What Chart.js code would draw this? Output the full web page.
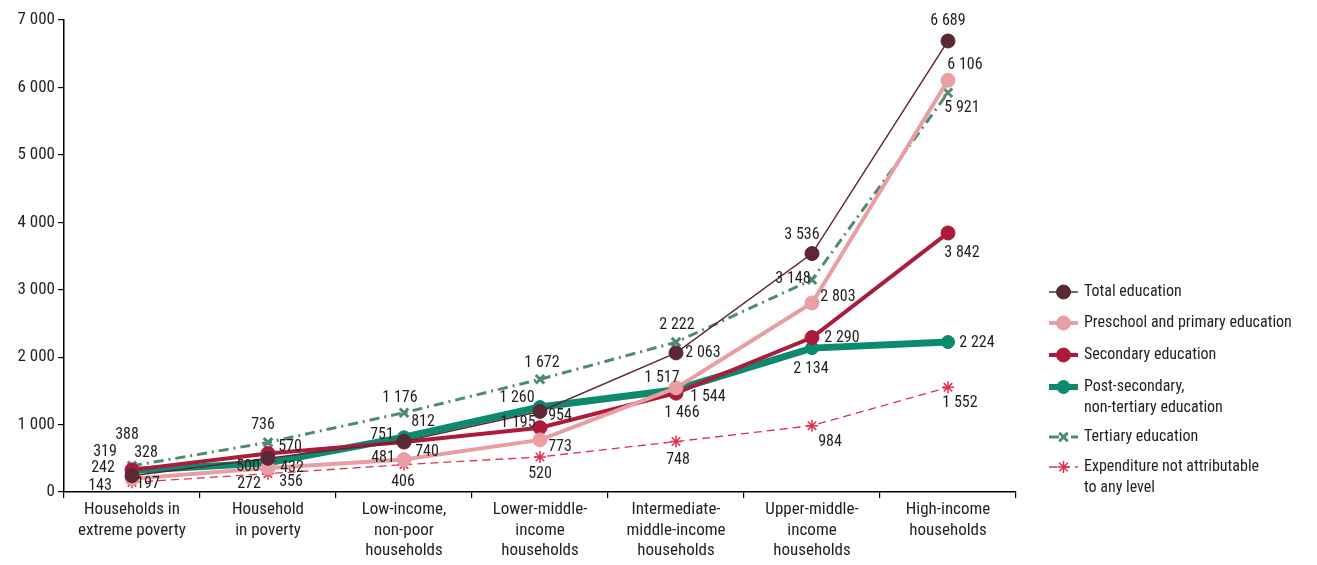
<!DOCTYPE html>
<html>
<head>
<meta charset="utf-8">
<script src="https://cdn.jsdelivr.net/npm/chart.js@4.4.1/dist/chart.umd.min.js"></script>
<style>
  html, body { margin: 0; padding: 0; background: #fff; }
  #wrap { width: 1317px; height: 565px; position: relative; }
</style>
</head>
<body>
<div id="wrap"><canvas id="grafico"></canvas></div>
<script>
// categorias del eje x
const categorias = [
    ['Households in', 'extreme poverty'],
    ['Household', 'in poverty'],
    ['Low-income,', 'non-poor', 'households'],
    ['Lower-middle-', 'income', 'households'],
    ['Intermediate-', 'middle-income', 'households'],
    ['Upper-middle-', 'income', 'households'],
    ['High-income', 'households']
];

// series
const totalEducacion = [242, 500, 751, 1195, 2063, 3536, 6689];
const preescolarPrimaria = [197, 356, 481, 773, 1544, 2803, 6106];
const secundaria = [328, 570, 740, 954, 1466, 2290, 3842];
const postSecundaria = [319, 432, 812, 1260, 1517, 2134, 2224];
const terciaria = [388, 736, 1176, 1672, 2222, 3148, 5921];
const noAtribuible = [143, 272, 406, 520, 748, 984, 1552];

const ticksY = [0, 1000, 2000, 3000, 4000, 5000, 6000, 7000];

const leyendas = [
    ['Total education'],
    ['Preschool and primary education'],
    ['Secondary education'],
    ['Post-secondary,', 'non-tertiary education'],
    ['Tertiary education'],
    ['Expenditure not attributable', 'to any level']
];

// desplazamiento de cada etiqueta respecto a su punto (dx, dy)
const offsetsEtiquetas = [
    [[-29, -8], [-20, 9], [-22, -6], [-22, 12], [27, 0], [-10, -19], [0, -20]],
    [[16, 5], [23, 14], [-21, -2], [20, 7], [32, 9], [26, -6], [17, -15]],
    [[14, -17], [22, -7], [23, 10], [20, -12], [6, 20], [30, 0], [14, 20]],
    [[-27, -18], [24, 5], [19, -15], [-23, -9], [-14, -12], [-1, 21], [29, 1]],
    [[-5, -31], [-5, -17], [-4, -15], [2, -16], [1, -17], [-19, -1], [14, 15]],
    [[-32, 4], [-19, 10], [-1, 17], [0, 17], [2, 18], [18, 16], [12, 16]]
];

const FUENTE = '"Liberation Sans Narrow", "Roboto Condensed", Roboto, sans-serif';
const COLOR_TEXTO = '#231f20';

function formatoNumero(v) {
    return Math.round(v).toString().replace(/\B(?=(\d{3})+(?!\d))/g, ' ');
}

// etiquetas de valores junto a cada punto
const pluginEtiquetas = {
    id: 'etiquetasValores',
    afterDatasetsDraw(chart) {
        const ctx = chart.ctx;
        ctx.save();
        ctx.font = '16px ' + FUENTE;
        ctx.fillStyle = COLOR_TEXTO;
        ctx.textAlign = 'center';
        ctx.textBaseline = 'middle';
        chart.data.datasets.forEach((ds, i) => {
            const meta = chart.getDatasetMeta(i);
            meta.data.forEach((pt, j) => {
                const off = offsetsEtiquetas[i][j];
                ctx.fillText(formatoNumero(ds.data[j]), pt.x + off[0], pt.y + off[1]);
            });
        });
        ctx.restore();
    }
};

// leyenda a la derecha, dibujada a mano
const pluginLeyenda = {
    id: 'leyendaLateral',
    afterDraw(chart) {
        const ctx = chart.ctx;
        const x0 = 1049, x1 = 1078, xt = 1084;
        const filas = [292, 323, 355, 387, 437, 467];
        ctx.save();
        chart.data.datasets.forEach((ds, i) => {
            const y = filas[i];
            ctx.save();
            ctx.strokeStyle = ds.borderColor;
            ctx.lineWidth = Math.min(ds.borderWidth, 6);
            ctx.setLineDash(ds.borderDash || []);
            ctx.beginPath();
            ctx.moveTo(x0, y);
            ctx.lineTo(x1, y);
            ctx.stroke();
            ctx.setLineDash([]);
            ctx.fillStyle = ds.pointBackgroundColor;
            ctx.strokeStyle = ds.pointBorderColor;
            ctx.lineWidth = ds.pointBorderWidth;
            Chart.helpers.drawPoint(ctx, {
                pointStyle: ds.pointStyle,
                radius: ds.pointRadius,
                rotation: 0,
                borderWidth: ds.pointBorderWidth
            }, (x0 + x1) / 2, y);
            ctx.restore();
            ctx.font = '16px ' + FUENTE;
            ctx.fillStyle = COLOR_TEXTO;
            ctx.textAlign = 'left';
            ctx.textBaseline = 'middle';
            leyendas[i].forEach((linea, k) => {
                ctx.fillText(linea, xt, y + k * 21);
            });
        });
        ctx.restore();
    }
};

function serie(label, data, color, ancho, extra) {
    return Object.assign({
        label: label,
        data: data,
        borderColor: color,
        backgroundColor: color,
        borderWidth: ancho,
        pointBackgroundColor: color,
        pointBorderColor: color,
        pointBorderWidth: 1,
        pointRadius: 7,
        pointHoverRadius: 7,
        pointStyle: 'circle',
        tension: 0,
        fill: false
    }, extra || {});
}

function inicioGrafica() {
    const ctx = document.getElementById('grafico').getContext('2d');
    Chart.defaults.font.family = FUENTE;
    Chart.defaults.color = COLOR_TEXTO;

    new Chart(ctx, {
        type: 'line',
        data: {
            labels: categorias,
            datasets: [
                serie(leyendas[0].join(' '), totalEducacion, '#5c2834', 1.5),
                serie(leyendas[1].join(' '), preescolarPrimaria, '#e89ea3', 4),
                serie(leyendas[2].join(' '), secundaria, '#ad1b3b', 4),
                serie(leyendas[3].join(' '), postSecundaria, '#0b8a6f', 7, { pointRadius: 6.5 }),
                serie(leyendas[4].join(' '), terciaria, '#4f8a73', 3, {
                    borderDash: [10, 5, 2, 5],
                    pointStyle: 'crossRot',
                    pointRadius: 6,
                    pointBorderWidth: 3
                }),
                serie(leyendas[5].join(' '), noAtribuible, '#e2304f', 1.3, {
                    borderDash: [8, 5],
                    pointStyle: 'star',
                    pointRadius: 6,
                    pointBorderWidth: 1.5
                })
            ]
        },
        options: {
            responsive: true,
            maintainAspectRatio: false,
            animation: false,
            events: [],
            layout: {
                padding: { top: 20, right: 301, left: 0, bottom: 0 }
            },
            scales: {
                x: {
                    offset: true,
                    grid: {
                        offset: true,
                        drawOnChartArea: false,
                        drawTicks: true,
                        tickLength: 6,
                        color: '#000',
                        lineWidth: 1.2
                    },
                    border: { display: true, color: '#000', width: 1.5 },
                    ticks: {
                        font: { size: 17 },
                        color: COLOR_TEXTO,
                        maxRotation: 0,
                        autoSkip: false,
                        padding: 2
                    },
                    afterFit(scale) { scale.height = 73; }
                },
                y: {
                    min: 0,
                    max: 7000,
                    afterBuildTicks(scale) {
                        scale.ticks = ticksY.map(v => ({ value: v }));
                    },
                    grid: {
                        drawOnChartArea: false,
                        drawTicks: true,
                        tickLength: 6,
                        color: '#000',
                        lineWidth: 1.2
                    },
                    border: { display: true, color: '#000', width: 1.5 },
                    ticks: {
                        font: { size: 17 },
                        color: COLOR_TEXTO,
                        padding: 3,
                        callback: v => formatoNumero(v)
                    },
                    afterFit(scale) { scale.width = 64; }
                }
            },
            plugins: {
                legend: { display: false },
                tooltip: { enabled: false }
            }
        },
        plugins: [pluginEtiquetas, pluginLeyenda]
    });
}

document.addEventListener('DOMContentLoaded', inicioGrafica);
</script>
</body>
</html>
